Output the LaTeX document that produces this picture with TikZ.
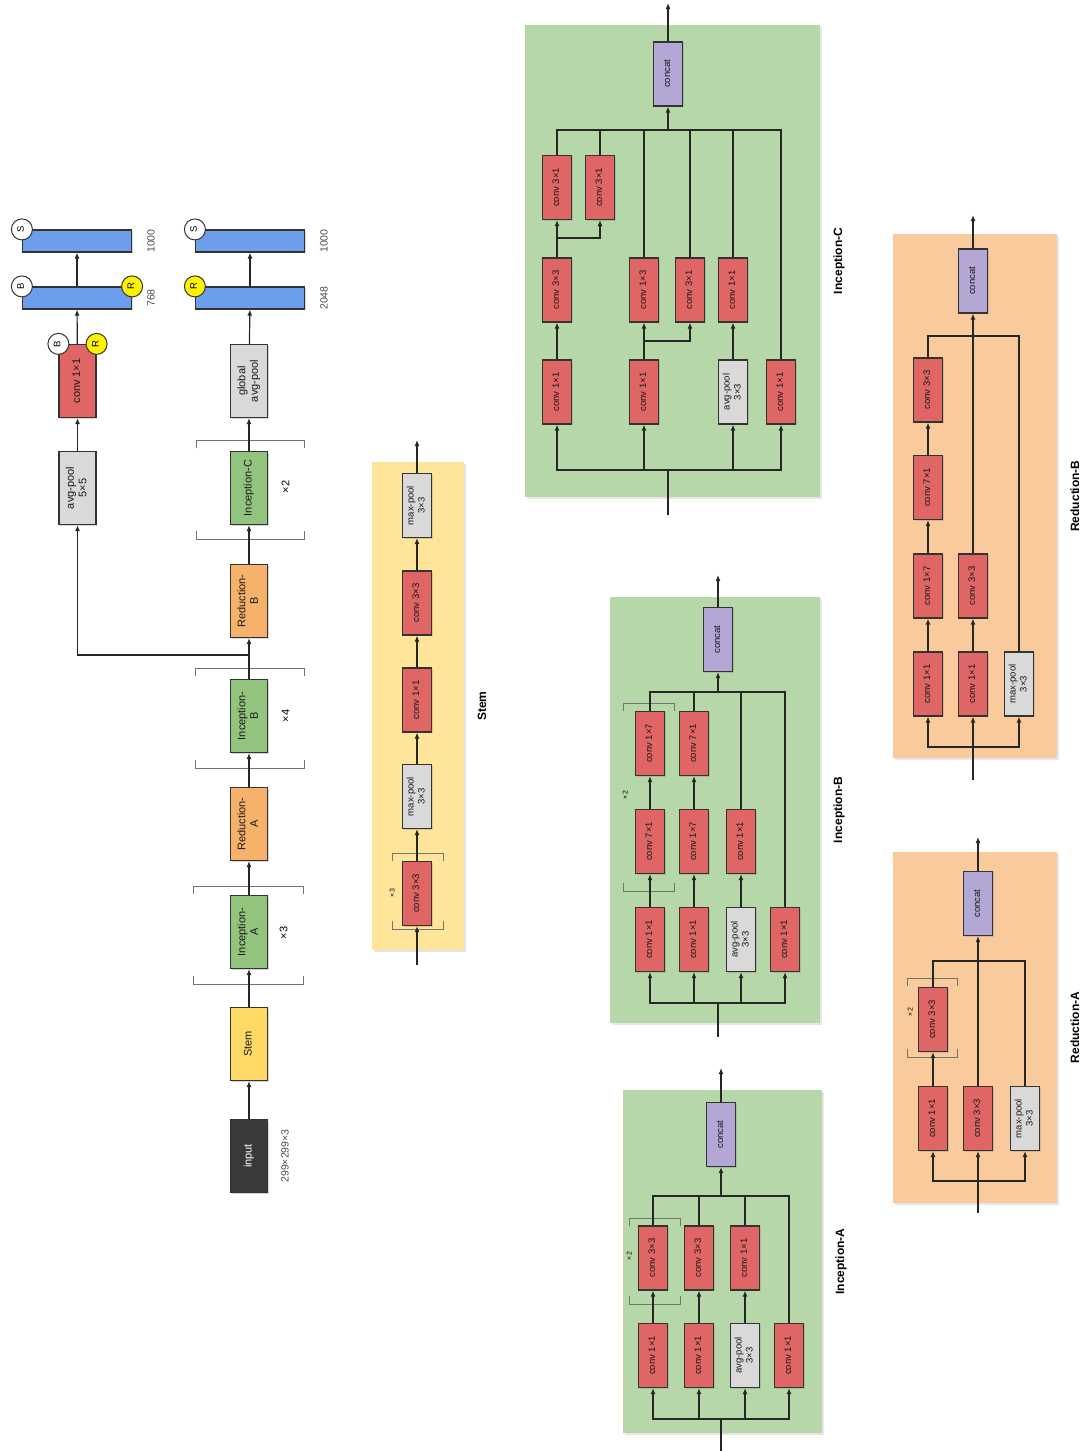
\documentclass[tikz,border=0pt]{standalone}
\usepackage{fontspec}
\setmainfont{Liberation Sans}
\usepackage{graphicx}
\usepackage{tikz}
\usetikzlibrary{arrows.meta,positioning,shadows}
\usepackage{xcolor}
\definecolor{convred}{HTML}{E06666}
\definecolor{poolgray}{HTML}{D9D9D9}
\definecolor{catpurple}{HTML}{B4A7D6}
\definecolor{fcblue}{HTML}{6D9EEB}
\definecolor{incgreen}{HTML}{93C47D}
\definecolor{redorange}{HTML}{F6B26B}
\definecolor{stemyellow}{HTML}{FFD966}
\definecolor{inputdark}{HTML}{3A3A3A}
\definecolor{panelgreen}{HTML}{B6D7A8}
\definecolor{panelorange}{HTML}{F9CB9C}
\definecolor{panelyellow}{HTML}{FFE599}
\newcommand{\vt}[1]{\rotatebox{90}{\begin{tabular}{@{}c@{}}#1\end{tabular}}}
\newcommand{\reps}[4]{% x left, x right, y top, y bottom
  \draw[brk] (#1,#3+8) -- (#1,#3) -- (#2,#3) -- (#2,#3+8);
  \draw[brk] (#1,#4-8) -- (#1,#4) -- (#2,#4) -- (#2,#4-8);}

\begin{document}
\begin{tikzpicture}[x=1pt, y=-1pt,
    box/.style={draw=black!80, line width=1.2pt, inner sep=0pt, text=black!90,
      drop shadow={shadow xshift=1pt, shadow yshift=-1pt, opacity=.3}},
    big/.style={box, minimum width=37, minimum height=73, font=\fontsize{11}{12.5}\selectfont},
    sm/.style={box, minimum width=29, minimum height=64, font=\fontsize{9.5}{11}\selectfont},
    bar/.style={box, fill=fcblue, minimum width=109, minimum height=22},
    conv/.style={sm, fill=convred},
    pool/.style={sm, fill=poolgray},
    cat/.style={sm, fill=catpurple},
    cb/.style={circle, draw=black!80, line width=1pt, fill=white, minimum size=21, inner sep=0pt,
      font=\fontsize{9.5}{9.5}\selectfont},
    cr/.style={cb, fill=yellow},
    panel/.style={inner sep=0pt, drop shadow={shadow xshift=1.5pt, shadow yshift=-1.5pt, opacity=.2}},
    ttl/.style={font=\fontsize{12}{14}\selectfont\bfseries, inner sep=0pt},
    num/.style={font=\fontsize{10.5}{12}\selectfont, text=black!70, inner sep=0pt},
    rep/.style={font=\fontsize{11}{12}\selectfont, inner sep=0pt},
    rept/.style={font=\fontsize{7}{8}\selectfont, inner sep=0pt},
    brk/.style={draw=black!55, line width=0.8pt},
    ln/.style={draw=black!85, line width=1.2pt},
    trunk/.style={line width=1.8pt},
    arr/.style={ln, -{Latex[length=6pt, width=5pt]}}]
    \useasboundingbox (0,0) rectangle (1084,1451);

    % main network
    \node[big, fill=inputdark, text=white] (input) at (249,1156) {\vt{input}};
    \node[num, right=12pt of input] {\vt{299×299×3}};
    \node[big, fill=stemyellow] (stem) at (249,1044) {\vt{Stem}};
    \node[big, fill=incgreen] (incA) at (249,932) {\vt{Inception-\\A}};
    \node[big, fill=redorange] (redA) at (249,824) {\vt{Reduction-\\A}};
    \node[big, fill=incgreen] (incB) at (249,716) {\vt{Inception-\\B}};
    \node[big, fill=redorange] (redB) at (249,601) {\vt{Reduction-\\B}};
    \node[big, fill=incgreen] (incC) at (249,488) {\vt{Inception-C}};
    \node[big, fill=poolgray] (gpool) at (249,381) {\vt{global\\avg-pool}};
    \node[bar] (fc2048) at (250,298) {};
    \node[bar] (out2) at (250,241) {};
    \node[num, right=14pt of fc2048] {\vt{2048}};
    \node[num, right=14pt of out2] {\vt{1000}};
    \node[cr] at (fc2048.north west) {\vt{R}};
    \node[cb] at (out2.north west) {\vt{S}};
    \reps{193}{303}{886}{984}
    \reps{195}{304}{668}{768}
    \reps{196}{304}{440}{539}
    \node[rep] at (285,933) {\vt{×3}};
    \node[rep] at (287,716) {\vt{×4}};
    \node[rep] at (287,487) {\vt{×2}};

    % auxiliary head
    \node[big, fill=poolgray] (apool) at (77.5,488) {\vt{avg-pool\\5×5}};
    \node[big, fill=convred] (aconv) at (77.5,381) {\vt{conv 1×1}};
    \node[bar] (fc768) at (77,298) {};
    \node[bar] (out1) at (77,241) {};
    \node[num, right=14pt of fc768] {\vt{768}};
    \node[num, right=14pt of out1] {\vt{1000}};
    \node[cb] at (aconv.north west) {\vt{B}};
    \node[cr] at (aconv.north east) {\vt{R}};
    \node[cb] at (fc768.north west) {\vt{B}};
    \node[cr] at (fc768.north east) {\vt{R}};
    \node[cb] at (out1.north west) {\vt{S}};
    \coordinate (aux) at (249,655);

    \draw[arr] (input) -- (stem);
    \draw[arr] (stem) -- (incA);
    \draw[arr] (incA) -- (redA);
    \draw[arr] (redA) -- (incB);
    \draw[arr] (incB) -- (redB);
    \draw[arr] (redB) -- (incC);
    \draw[arr] (incC) -- (gpool);
    \draw[arr] (gpool) -- (fc2048);
    \draw[arr] (fc2048) -- (out2);
    \draw[arr] (aux) -| (apool);
    \draw[arr] (apool) -- (aconv);
    \draw[arr] (aconv) -- (fc768);
    \draw[arr] (fc768) -- (out1);

    % Stem
    \node[panel, fill=panelyellow, minimum width=92, minimum height=488] (stemP) at (418,706) {};
    \node[ttl, right=12pt of stemP] {\vt{Stem}};
    \node[conv] (s1) at (417,893.5) {\vt{conv 3×3}};
    \node[pool] (s2) at (417,796.5) {\vt{max-pool\\3×3}};
    \node[conv] (s3) at (417,700) {\vt{conv 1×1}};
    \node[conv] (s4) at (417,603) {\vt{conv 3×3}};
    \node[pool] (s5) at (417,505.5) {\vt{max-pool\\3×3}};
    \coordinate (sIn) at (417,965);
    \coordinate (sOut) at (417,440);
    \reps{392}{443}{853}{929}
    \node[rept] at (393,893) {\vt{×3}};
    \draw[arr] (sIn) -- (s1);
    \draw[arr] (s1) -- (s2);
    \draw[arr] (s2) -- (s3);
    \draw[arr] (s3) -- (s4);
    \draw[arr] (s4) -- (s5);
    \draw[arr] (s5) -- (sOut);

    % Inception-C
    \node[panel, fill=panelgreen, minimum width=295, minimum height=472] (incCP) at (672.5,261) {};
    \node[ttl, right=12pt of incCP] {\vt{Inception-C}};
    \node[cat] (cCat) at (668,74) {\vt{concat}};
    \node[conv] (cA1) at (557,392) {\vt{conv 1×1}};
    \node[conv] (cA2) at (557,290) {\vt{conv 3×3}};
    \node[conv] (cA3) at (557,187.5) {\vt{conv 3×1}};
    \node[conv] (cA4) at (600,187.5) {\vt{conv 3×1}};
    \node[conv] (cB1) at (644,392) {\vt{conv 1×1}};
    \node[conv] (cB2) at (644,290) {\vt{conv 1×3}};
    \node[conv] (cB3) at (690,290) {\vt{conv 3×1}};
    \node[pool] (cC1) at (733,392) {\vt{avg-pool\\3×3}};
    \node[conv] (cC2) at (733,290) {\vt{conv 1×1}};
    \node[conv] (cD1) at (781,392) {\vt{conv 1×1}};
    \coordinate (cIn) at (668,515);
    \coordinate (cSp) at (668,470);
    \coordinate (cA2s) at (557,238);
    \coordinate (cB1s) at (644,341);
    \coordinate (cMg) at (668,130);
    \coordinate (cOut) at (668,3);
    \draw[ln, trunk] (cIn) -- (cSp);
    \draw[arr] (cSp) -| (cA1);
    \draw[arr] (cSp) -| (cB1);
    \draw[arr] (cSp) -| (cC1);
    \draw[arr] (cSp) -| (cD1);
    \draw[arr] (cA1) -- (cA2);
    \draw[arr] (cA2) -- (cA3);
    \draw[arr] (cA2s) -| (cA4);
    \draw[arr] (cB1) -- (cB2);
    \draw[arr] (cB1s) -| (cB3);
    \draw[arr] (cC1) -- (cC2);
    \draw[ln] (cA3) |- (cMg);
    \draw[ln] (cA4) |- (cMg);
    \draw[ln] (cB2) |- (cMg);
    \draw[ln] (cB3) |- (cMg);
    \draw[ln] (cC2) |- (cMg);
    \draw[ln] (cD1) |- (cMg);
    \draw[arr, trunk] (cMg) -- (cCat);
    \draw[arr, trunk] (cCat) -- (cOut);

    % Inception-B
    \node[panel, fill=panelgreen, minimum width=210, minimum height=426] (incBP) at (715,810) {};
    \node[ttl, right=12pt of incBP] {\vt{Inception-B}};
    \node[cat] (bCat) at (718,639.5) {\vt{concat}};
    \node[conv] (bA1) at (650,939.5) {\vt{conv 1×1}};
    \node[conv] (bA2) at (650,841.5) {\vt{conv 7×1}};
    \node[conv] (bA3) at (650,743.5) {\vt{conv 1×7}};
    \node[conv] (bB1) at (694,939.5) {\vt{conv 1×1}};
    \node[conv] (bB2) at (694,841.5) {\vt{conv 1×7}};
    \node[conv] (bB3) at (694,743.5) {\vt{conv 7×1}};
    \node[pool] (bC1) at (741,939.5) {\vt{avg-pool\\3×3}};
    \node[conv] (bC2) at (741,841.5) {\vt{conv 1×1}};
    \node[conv] (bD1) at (785,939.5) {\vt{conv 1×1}};
    \reps{623}{674}{703}{891}
    \node[rept] at (626,795) {\vt{×2}};
    \coordinate (bIn) at (718,1037);
    \coordinate (bSp) at (718,1003);
    \coordinate (bMg) at (718,692);
    \coordinate (bOut) at (718,575);
    \draw[ln, trunk] (bIn) -- (bSp);
    \draw[arr] (bSp) -| (bA1);
    \draw[arr] (bSp) -| (bB1);
    \draw[arr] (bSp) -| (bC1);
    \draw[arr] (bSp) -| (bD1);
    \draw[arr] (bA1) -- (bA2);
    \draw[arr] (bA2) -- (bA3);
    \draw[arr] (bB1) -- (bB2);
    \draw[arr] (bB2) -- (bB3);
    \draw[arr] (bC1) -- (bC2);
    \draw[ln] (bA3) |- (bMg);
    \draw[ln] (bB3) |- (bMg);
    \draw[ln] (bC2) |- (bMg);
    \draw[ln] (bD1) |- (bMg);
    \draw[arr, trunk] (bMg) -- (bCat);
    \draw[arr, trunk] (bCat) -- (bOut);

    % Inception-A
    \node[panel, fill=panelgreen, minimum width=199, minimum height=343] (incAP) at (722.5,1261.5) {};
    \node[ttl, right=12pt of incAP] {\vt{Inception-A}};
    \node[cat] (aCat) at (721,1134.5) {\vt{concat}};
    \node[conv] (aA1) at (653,1355.5) {\vt{conv 1×1}};
    \node[conv] (aA2) at (653,1258) {\vt{conv 3×3}};
    \node[conv] (aB1) at (699,1355.5) {\vt{conv 1×1}};
    \node[conv] (aB2) at (699,1258) {\vt{conv 3×3}};
    \node[pool] (aC1) at (745,1355.5) {\vt{avg-pool\\3×3}};
    \node[conv] (aC2) at (745,1258) {\vt{conv 1×1}};
    \node[conv] (aD1) at (789,1355.5) {\vt{conv 1×1}};
    \reps{629}{680}{1218}{1304}
    \node[rept] at (630,1256) {\vt{×2}};
    \coordinate (aIn) at (721,1451);
    \coordinate (aSp) at (721,1419);
    \coordinate (aMg) at (721,1196);
    \coordinate (aOut) at (721,1068);
    \draw[ln, trunk] (aIn) -- (aSp);
    \draw[arr] (aSp) -| (aA1);
    \draw[arr] (aSp) -| (aB1);
    \draw[arr] (aSp) -| (aC1);
    \draw[arr] (aSp) -| (aD1);
    \draw[arr] (aA1) -- (aA2);
    \draw[arr] (aB1) -- (aB2);
    \draw[arr] (aC1) -- (aC2);
    \draw[ln] (aA2) |- (aMg);
    \draw[ln] (aB2) |- (aMg);
    \draw[ln] (aC2) |- (aMg);
    \draw[ln] (aD1) |- (aMg);
    \draw[arr, trunk] (aMg) -- (aCat);
    \draw[arr, trunk] (aCat) -- (aOut);

    % Reduction-B
    \node[panel, fill=panelorange, minimum width=164, minimum height=524] (redBP) at (975,496) {};
    \node[ttl, right=12pt of redBP] {\vt{Reduction-B}};
    \node[cat] (rCat) at (973,281) {\vt{concat}};
    \node[conv] (rA1) at (928,684) {\vt{conv 1×1}};
    \node[conv] (rA2) at (928,586) {\vt{conv 1×7}};
    \node[conv] (rA3) at (928,487.5) {\vt{conv 7×1}};
    \node[conv] (rA4) at (928,390) {\vt{conv 3×3}};
    \node[conv] (rB1) at (973,684) {\vt{conv 1×1}};
    \node[conv] (rB2) at (973,586) {\vt{conv 3×3}};
    \node[pool] (rC1) at (1019,684) {\vt{max-pool\\3×3}};
    \coordinate (rIn) at (973,780);
    \coordinate (rSp) at (973,747);
    \coordinate (rMg) at (973,336);
    \coordinate (rOut) at (973,215);
    \draw[ln, trunk] (rIn) -- (rSp);
    \draw[arr] (rSp) -| (rA1);
    \draw[arr] (rSp) -- (rB1);
    \draw[arr] (rSp) -| (rC1);
    \draw[arr] (rA1) -- (rA2);
    \draw[arr] (rA2) -- (rA3);
    \draw[arr] (rA3) -- (rA4);
    \draw[arr] (rB1) -- (rB2);
    \draw[ln] (rA4) |- (rMg);
    \draw[ln] (rB2) -- (rMg);
    \draw[ln] (rC1) |- (rMg);
    \draw[arr, trunk] (rMg) -- (rCat);
    \draw[arr, trunk] (rCat) -- (rOut);

    % Reduction-A
    \node[panel, fill=panelorange, minimum width=164, minimum height=351] (redAP) at (975,1027.5) {};
    \node[ttl, right=12pt of redAP] {\vt{Reduction-A}};
    \node[cat] (qCat) at (978,903.5) {\vt{concat}};
    \node[conv] (qA1) at (933,1118.5) {\vt{conv 1×1}};
    \node[conv] (qA2) at (933,1019.5) {\vt{conv 3×3}};
    \node[conv] (qB1) at (978,1118.5) {\vt{conv 3×3}};
    \node[pool] (qC1) at (1025,1118.5) {\vt{max-pool\\3×3}};
    \reps{907}{957}{978}{1057}
    \node[rept] at (911,1012) {\vt{×2}};
    \coordinate (qIn) at (978,1213);
    \coordinate (qSp) at (978,1181);
    \coordinate (qMg) at (978,961);
    \coordinate (qOut) at (978,837);
    \draw[ln, trunk] (qIn) -- (qSp);
    \draw[arr] (qSp) -| (qA1);
    \draw[arr] (qSp) -- (qB1);
    \draw[arr] (qSp) -| (qC1);
    \draw[arr] (qA1) -- (qA2);
    \draw[ln] (qA2) |- (qMg);
    \draw[ln] (qB1) -- (qMg);
    \draw[ln] (qC1) |- (qMg);
    \draw[arr, trunk] (qMg) -- (qCat);
    \draw[arr, trunk] (qCat) -- (qOut);
\end{tikzpicture}
\end{document}
